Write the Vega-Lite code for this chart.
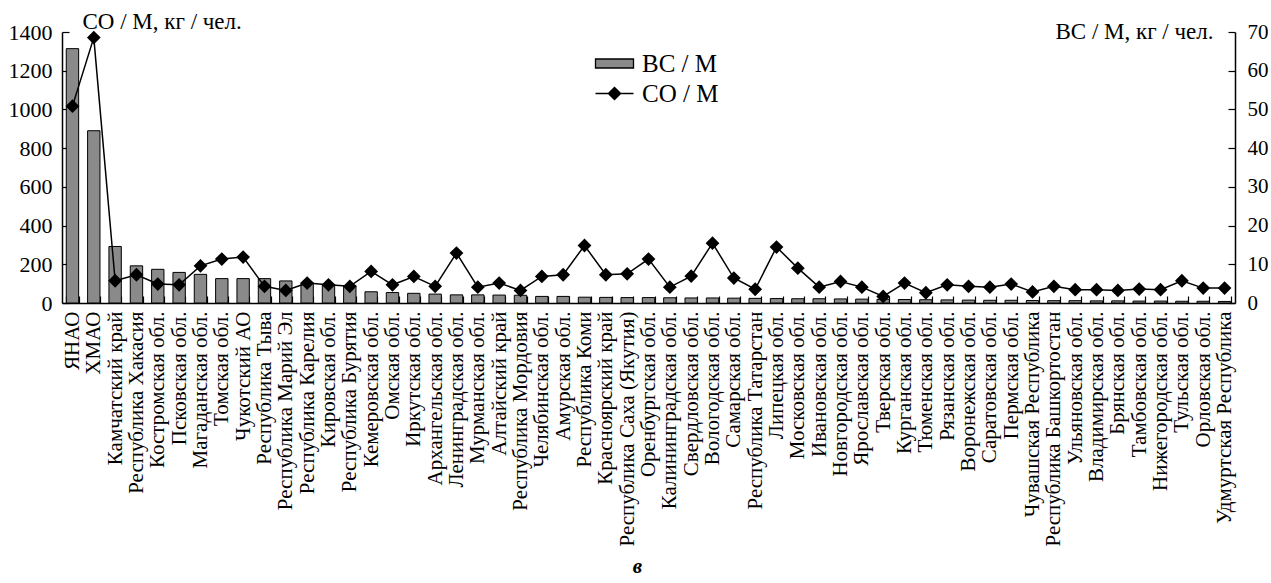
{
  "$schema": "https://vega.github.io/schema/vega-lite/v6.json",
  "width": 1173,
  "height": 271,
  "autosize": {"type": "none"},
  "padding": {"left": 62, "top": 32, "right": 36, "bottom": 280},
  "background": "white",
  "title": {"text": "в", "orient": "bottom", "anchor": "middle", "dx": -11, "offset": 10, "font": "Liberation Serif", "fontSize": 21, "fontStyle": "italic", "fontWeight": "bold", "color": "black"},
  "config": {
    "font": "Liberation Serif",
    "view": {"stroke": null},
    "axis": {"labelFont": "Liberation Serif", "titleFont": "Liberation Serif", "labelColor": "black", "titleColor": "black", "domainColor": "black", "tickColor": "black", "domainWidth": 1.5, "tickWidth": 1.2, "tickSize": -7, "grid": false, "titleFontWeight": "normal"},
    "legend": {"labelFont": "Liberation Serif"}
  },
  "data": {"values": [
    {"region": "ЯНАО", "BC": 65.7, "CO": 1017},
    {"region": "ХМАО", "BC": 44.5, "CO": 1371},
    {"region": "Камчатский край", "BC": 14.6, "CO": 115},
    {"region": "Республика Хакасия", "BC": 9.6, "CO": 146},
    {"region": "Костромская обл.", "BC": 8.7, "CO": 98},
    {"region": "Псковская обл.", "BC": 7.9, "CO": 94},
    {"region": "Магаданская обл.", "BC": 7.4, "CO": 192},
    {"region": "Томская обл.", "BC": 6.3, "CO": 227},
    {"region": "Чукотский АО", "BC": 6.3, "CO": 237},
    {"region": "Республика Тыва", "BC": 6.3, "CO": 86},
    {"region": "Республика Марий Эл", "BC": 5.7, "CO": 65},
    {"region": "Республика Карелия", "BC": 5.2, "CO": 103},
    {"region": "Кировская обл.", "BC": 4.8, "CO": 94},
    {"region": "Республика Бурятия", "BC": 4.5, "CO": 86},
    {"region": "Кемеровская обл.", "BC": 2.9, "CO": 163},
    {"region": "Омская обл.", "BC": 2.7, "CO": 94},
    {"region": "Иркутская обл.", "BC": 2.5, "CO": 137},
    {"region": "Архангельская обл.", "BC": 2.3, "CO": 86},
    {"region": "Ленинградская обл.", "BC": 2.1, "CO": 258},
    {"region": "Мурманская обл.", "BC": 2.1, "CO": 82},
    {"region": "Алтайский край", "BC": 2.05, "CO": 103},
    {"region": "Республика Мордовия", "BC": 2.0, "CO": 65},
    {"region": "Челябинская обл.", "BC": 1.7, "CO": 137},
    {"region": "Амурская обл.", "BC": 1.7, "CO": 146},
    {"region": "Республика Коми", "BC": 1.5, "CO": 297},
    {"region": "Красноярский край", "BC": 1.45, "CO": 146},
    {"region": "Республика Саха (Якутия)", "BC": 1.4, "CO": 151},
    {"region": "Оренбургская обл.", "BC": 1.4, "CO": 227},
    {"region": "Калининградская обл.", "BC": 1.35, "CO": 82},
    {"region": "Свердловская обл.", "BC": 1.3, "CO": 139},
    {"region": "Вологодская обл.", "BC": 1.3, "CO": 309},
    {"region": "Самарская обл.", "BC": 1.25, "CO": 129},
    {"region": "Республика Татарстан", "BC": 1.2, "CO": 71},
    {"region": "Липецкая обл.", "BC": 1.15, "CO": 289},
    {"region": "Московская обл.", "BC": 1.1, "CO": 180},
    {"region": "Ивановская обл.", "BC": 1.1, "CO": 82},
    {"region": "Новгородская обл.", "BC": 1.05, "CO": 111},
    {"region": "Ярославская обл.", "BC": 1.0, "CO": 82},
    {"region": "Тверская обл.", "BC": 0.95, "CO": 34},
    {"region": "Курганская обл.", "BC": 0.9, "CO": 103},
    {"region": "Тюменская обл.", "BC": 0.85, "CO": 53},
    {"region": "Рязанская обл.", "BC": 0.8, "CO": 94},
    {"region": "Воронежская обл.", "BC": 0.75, "CO": 86},
    {"region": "Саратовская обл.", "BC": 0.7, "CO": 82},
    {"region": "Пермская обл.", "BC": 0.7, "CO": 98},
    {"region": "Чувашская Республика", "BC": 0.65, "CO": 57},
    {"region": "Республика Башкортостан", "BC": 0.6, "CO": 86},
    {"region": "Ульяновская обл.", "BC": 0.6, "CO": 69},
    {"region": "Владимирская обл.", "BC": 0.55, "CO": 69},
    {"region": "Брянская обл.", "BC": 0.55, "CO": 65},
    {"region": "Тамбовская обл.", "BC": 0.5, "CO": 72},
    {"region": "Нижегородская обл.", "BC": 0.5, "CO": 69},
    {"region": "Тульская обл.", "BC": 0.45, "CO": 115},
    {"region": "Орловская обл.", "BC": 0.45, "CO": 77},
    {"region": "Удмуртская Республика", "BC": 0.4, "CO": 77}
  ]},
  "encoding": {
    "x": {"field": "region", "type": "nominal", "sort": null,
      "scale": {"paddingInner": 0.42, "paddingOuter": 0.2},
      "axis": {"title": null, "labelFont": "Liberation Serif", "labelAngle": -90, "labelAlign": "right", "labelBaseline": "middle", "labelFontSize": 21, "labelPadding": 15, "labelOverlap": false, "labelLimit": 400, "tickBand": "extent"}}
  },
  "layer": [
    {
      "mark": {"type": "bar", "stroke": "black", "strokeWidth": 1},
      "encoding": {
        "y": {"field": "BC", "type": "quantitative",
          "scale": {"domain": [0, 70], "nice": false},
          "axis": {"orient": "right", "values": [0, 10, 20, 30, 40, 50, 60, 70], "format": "d", "labelFont": "Liberation Serif", "labelFontSize": 21, "labelPadding": 19, "title": "BC / M, кг / чел.", "titleFont": "Liberation Serif", "titleAngle": 0, "titleAlign": "right", "titleBaseline": "alphabetic", "titleX": -22, "titleY": 6, "titleFontSize": 23}},
        "fill": {"datum": "BC/M", "type": "nominal",
          "scale": {"domain": ["BC/M"], "range": ["#8a8a8a"]},
          "legend": {"title": null, "orient": "none", "legendX": 540, "legendY": 19, "padding": 0, "symbolSize": 400, "symbolType": "M-1.9,-0.45H1.9V0.45H-1.9Z", "symbolStrokeColor": "black", "symbolStrokeWidth": 1.3, "symbolOpacity": 1, "labelOffset": 15, "labelFont": "Liberation Serif", "labelFontSize": 25, "labelColor": "black", "labelExpr": "'BC / M'"}}
      }
    },
    {
      "mark": {"type": "line", "strokeWidth": 1.5,
        "point": {"shape": "diamond", "size": 120, "filled": true, "fill": "black", "stroke": "black", "opacity": 1}},
      "encoding": {
        "y": {"field": "CO", "type": "quantitative",
          "scale": {"domain": [0, 1400], "nice": false},
          "axis": {"orient": "left", "values": [0, 200, 400, 600, 800, 1000, 1200, 1400], "format": "d", "labelFont": "Liberation Serif", "labelFontSize": 22, "labelPadding": 17, "title": "CO / M, кг / чел.", "titleFont": "Liberation Serif", "titleAngle": 0, "titleAlign": "left", "titleBaseline": "alphabetic", "titleX": 20, "titleY": -4, "titleFontSize": 23}},
        "stroke": {"datum": "CO/M", "type": "nominal",
          "scale": {"domain": ["CO/M"], "range": ["#000000"]},
          "legend": {"title": null, "orient": "none", "legendX": 540, "legendY": 49, "padding": 0, "symbolSize": 400, "symbolType": "M-1.9,0H1.9M0,-0.6L0.6,0L0,0.6L-0.6,0Z", "symbolFillColor": "black", "symbolStrokeWidth": 1.5, "symbolOpacity": 1, "labelOffset": 15, "labelFont": "Liberation Serif", "labelFontSize": 25, "labelColor": "black", "labelExpr": "'CO / M'"}}
      }
    }
  ],
  "resolve": {"scale": {"y": "independent"}}
}
